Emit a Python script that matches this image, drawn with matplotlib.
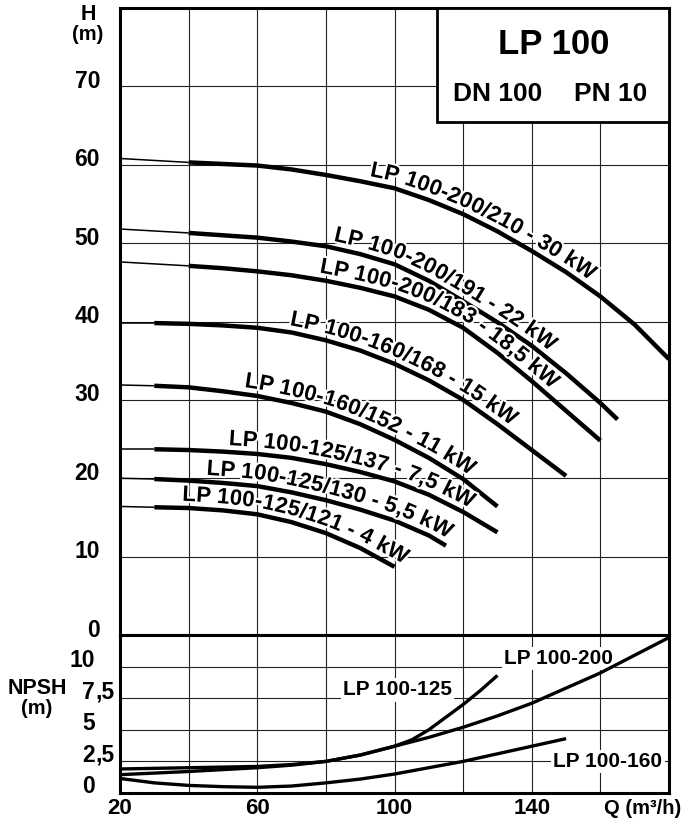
import numpy as np
import matplotlib
matplotlib.use("Agg")
import matplotlib.pyplot as plt
from matplotlib import patheffects as pe
from matplotlib import transforms
from matplotlib.font_manager import FontProperties
from matplotlib.patches import Rectangle

FONT = ["Liberation Sans", "DejaVu Sans"]
plt.rcParams["font.family"] = FONT
plt.rcParams["font.weight"] = "bold"

# head curves H (m) over Q (m3/h), first segment is the thin part
Q_210 = [20, 40, 50, 60, 70, 80, 90, 100, 110, 120, 130, 140, 150, 160, 170, 180]
H_210 = [60.8, 60.3, 60.1, 59.9, 59.4, 58.7, 57.9, 57.0, 55.5, 53.7, 51.5, 49.0, 46.3, 43.2, 39.6, 35.2]
Q_191 = [20, 40, 50, 60, 70, 80, 90, 100, 110, 120, 130, 140, 150, 160, 165]
H_191 = [51.8, 51.3, 51.0, 50.7, 50.2, 49.6, 48.6, 47.3, 45.2, 42.6, 39.9, 36.9, 33.4, 29.6, 27.5]
Q_183 = [20, 40, 50, 60, 70, 80, 90, 100, 110, 120, 130, 140, 150, 160]
H_183 = [47.6, 47.1, 46.8, 46.4, 45.9, 45.2, 44.3, 43.2, 41.5, 39.2, 36.0, 32.4, 28.6, 24.8]
Q_168 = [20, 30, 40, 50, 60, 70, 80, 90, 100, 110, 120, 130, 140, 150]
H_168 = [39.8, 39.8, 39.7, 39.5, 39.2, 38.6, 37.6, 36.3, 34.6, 32.5, 30.0, 26.9, 23.6, 20.3]
Q_152 = [20, 30, 40, 50, 60, 70, 80, 90, 100, 110, 120, 130]
H_152 = [31.9, 31.8, 31.6, 31.1, 30.5, 29.6, 28.5, 26.9, 24.9, 22.6, 19.9, 16.4]
Q_137 = [20, 30, 40, 50, 60, 70, 80, 90, 100, 110, 120, 130]
H_137 = [23.7, 23.7, 23.6, 23.4, 23.1, 22.6, 21.8, 20.8, 19.6, 17.9, 15.7, 13.1]
Q_130 = [20, 30, 40, 50, 60, 70, 80, 90, 100, 110, 115]
H_130 = [20.0, 19.9, 19.7, 19.4, 19.0, 18.2, 17.2, 16.0, 14.6, 12.7, 11.4]
Q_121 = [20, 30, 40, 50, 60, 70, 80, 90, 100]
H_121 = [16.4, 16.3, 16.2, 15.9, 15.4, 14.4, 13.0, 11.1, 8.7]

HEAD_LABELS = ["LP 100-200/210 - 30 kW", "LP 100-200/191 - 22 kW",
               "LP 100-200/183 - 18,5 kW", "LP 100-160/168 - 15 kW",
               "LP 100-160/152 - 11 kW", "LP 100-125/137 - 7,5 kW",
               "LP 100-125/130 - 5,5 kW", "LP 100-125/121 - 4 kW"]

# NPSH curves
Q_N200 = [20, 40, 60, 70, 80, 90, 100, 110, 120, 130, 140, 150, 160, 170, 180]
N_200 = [1.9, 2.0, 2.1, 2.25, 2.5, 3.0, 3.7, 4.4, 5.2, 6.1, 7.1, 8.3, 9.5, 10.9, 12.3]
Q_N125 = [20, 40, 60, 70, 80, 90, 100, 105, 110, 115, 120, 125, 130]
N_125 = [1.45, 1.7, 2.0, 2.2, 2.5, 3.0, 3.7, 4.2, 5.0, 6.0, 7.0, 8.1, 9.3]
Q_N160 = [20, 30, 40, 50, 60, 70, 80, 90, 100, 110, 120, 130, 140, 150]
N_160 = [1.15, 0.8, 0.6, 0.5, 0.45, 0.55, 0.8, 1.1, 1.5, 2.0, 2.5, 3.1, 3.7, 4.3]
NPSH_LABELS = ["LP 100-200", "LP 100-125", "LP 100-160"]

H_TICKS = [0, 10, 20, 30, 40, 50, 60, 70]
N_TICKS = [0, 2.5, 5, 7.5, 10]
N_TICK_LABELS = ["0", "2,5", "5", "7,5", "10"]
Q_TICKS = [20, 60, 100, 140]


def text_on_curve(ax, q, h, label, q_start, gap=7, size=16):
    # put each character along the curve, rotated with the local slope
    fig = ax.figure
    rend = fig.canvas.get_renderer()
    fp = FontProperties(family=FONT, weight="bold", size=size)
    pts = ax.transData.transform(np.column_stack([q, h]))
    arc = np.concatenate([[0], np.cumsum(np.hypot(*np.diff(pts, axis=0).T))])
    x_start = ax.transData.transform((q_start, 0))[0]
    s0 = np.interp(x_start, pts[:, 0], arc)
    c = rend.get_text_width_height_descent("I", fp, ismath=False)[0]

    def adv(s):
        return rend.get_text_width_height_descent(s + "I", fp, ismath=False)[0] - c

    ident = transforms.IdentityTransform()
    for i, ch in enumerate(label):
        if ch == " ":
            continue
        s = s0 + (adv(label[:i]) + adv(label[:i + 1])) / 2
        x = np.interp(s, arc, pts[:, 0])
        y = np.interp(s, arc, pts[:, 1])
        xa, ya = np.interp(s - 12, arc, pts[:, 0]), np.interp(s - 12, arc, pts[:, 1])
        xb, yb = np.interp(s + 12, arc, pts[:, 0]), np.interp(s + 12, arc, pts[:, 1])
        ang = np.arctan2(yb - ya, xb - xa)
        nx, ny = -np.sin(ang), np.cos(ang)
        fig.text(x + nx * gap, y + ny * gap, ch, transform=ident,
                 rotation=np.degrees(ang), rotation_mode="anchor",
                 ha="center", va="baseline", fontproperties=fp, zorder=5,
                 path_effects=[pe.withStroke(linewidth=3, foreground="white")])


fig = plt.figure(figsize=(6.83, 8.25), dpi=100)
ax = fig.add_axes([0.1757, 0.2303, 0.8038, 0.7600])
ax2 = fig.add_axes([0.1757, 0.0388, 0.8038, 0.1915])

for a in (ax, ax2):
    a.set_xlim(20, 180)
    a.set_xticks(np.arange(20, 181, 20))
    a.tick_params(length=0, labelbottom=False, labelleft=False)
    a.grid(True, color="#222222", lw=0.8)
    a.set_axisbelow(True)
    for sp in a.spines.values():
        sp.set_linewidth(2.2)

ax.set_ylim(0, 80)
ax.set_yticks(np.arange(0, 81, 10))
ax2.set_ylim(0, 12.5)
ax2.set_yticks(N_TICKS)

head = [(Q_210, H_210), (Q_191, H_191), (Q_183, H_183), (Q_168, H_168),
        (Q_152, H_152), (Q_137, H_137), (Q_130, H_130), (Q_121, H_121)]
for q, h in head:
    ax.plot(q[:2], h[:2], color="k", lw=1.1, solid_capstyle="butt")
    ax.plot(q[1:], h[1:], color="k", lw=3.2, solid_capstyle="butt",
            solid_joinstyle="round")

label_start = [92.3, 81.7, 77.7, 69, 55.9, 51.5, 45, 38]
for (q, h), lab, qs in zip(head, HEAD_LABELS, label_start):
    text_on_curve(ax, q, h, lab, qs)

# title box
ax.add_patch(Rectangle((112.5, 65.4), 67.5, 14.6, facecolor="white",
                       edgecolor="k", lw=2, zorder=4))
ax.text(146.5, 75.4, "LP 100", fontsize=25, ha="center", va="center", zorder=6)
ax.text(130.0, 69.0, "DN 100", fontsize=19, ha="center", va="center", zorder=6)
ax.text(163.0, 69.0, "PN 10", fontsize=19, ha="center", va="center", zorder=6)

npsh = [(Q_N200, N_200), (Q_N125, N_125), (Q_N160, N_160)]
for q, n in npsh:
    ax2.plot(q, n, color="k", lw=2.4, solid_capstyle="butt", solid_joinstyle="round")

box = dict(facecolor="white", edgecolor="none", pad=1.5)
for lab, (xq, yn) in zip(NPSH_LABELS, [(147.8, 10.65), (100.8, 8.15), (162.2, 2.5)]):
    ax2.text(xq, yn, lab, fontsize=15, ha="center", va="center", bbox=box, zorder=1.5)

# axis labels
ytr = transforms.offset_copy(ax.get_yaxis_transform(), fig=fig, x=-20, y=5, units="dots")
for v in H_TICKS:
    ax.text(0, v, str(v), transform=ytr, ha="right", va="center", fontsize=16.5)
# NPSH labels are aligned on the decimal comma
ytr2 = transforms.offset_copy(ax2.get_yaxis_transform(), fig=fig, x=-25, y=6, units="dots")
for v, s in zip(N_TICKS, N_TICK_LABELS):
    whole, _, frac = s.partition(",")
    ax2.text(0, v, whole, transform=ytr2, ha="right", va="center", fontsize=16.5)
    if frac:
        ax2.text(0, v, "," + frac, transform=ytr2, ha="left", va="center", fontsize=16.5)
xtr = transforms.offset_copy(ax2.get_xaxis_transform(), fig=fig, x=0, y=-16, units="dots")
for v in Q_TICKS:
    ax2.text(v, 0, str(v), transform=xtr, ha="center", va="center", fontsize=16)

fig.text(0.997, 1 - 808 / 825, "Q (m³/h)", ha="right", va="center", fontsize=14.5)
fig.text(88 / 683, 1 - 15 / 825, "H", ha="center", va="center", fontsize=15.5)
fig.text(88 / 683, 1 - 35 / 825, "(m)", ha="center", va="center", fontsize=14.5)
fig.text(37 / 683, 1 - 689 / 825, "NPSH", ha="center", va="center", fontsize=15.5)
fig.text(37 / 683, 1 - 709 / 825, "(m)", ha="center", va="center", fontsize=14.5)

fig.savefig("out.png", dpi=100)
